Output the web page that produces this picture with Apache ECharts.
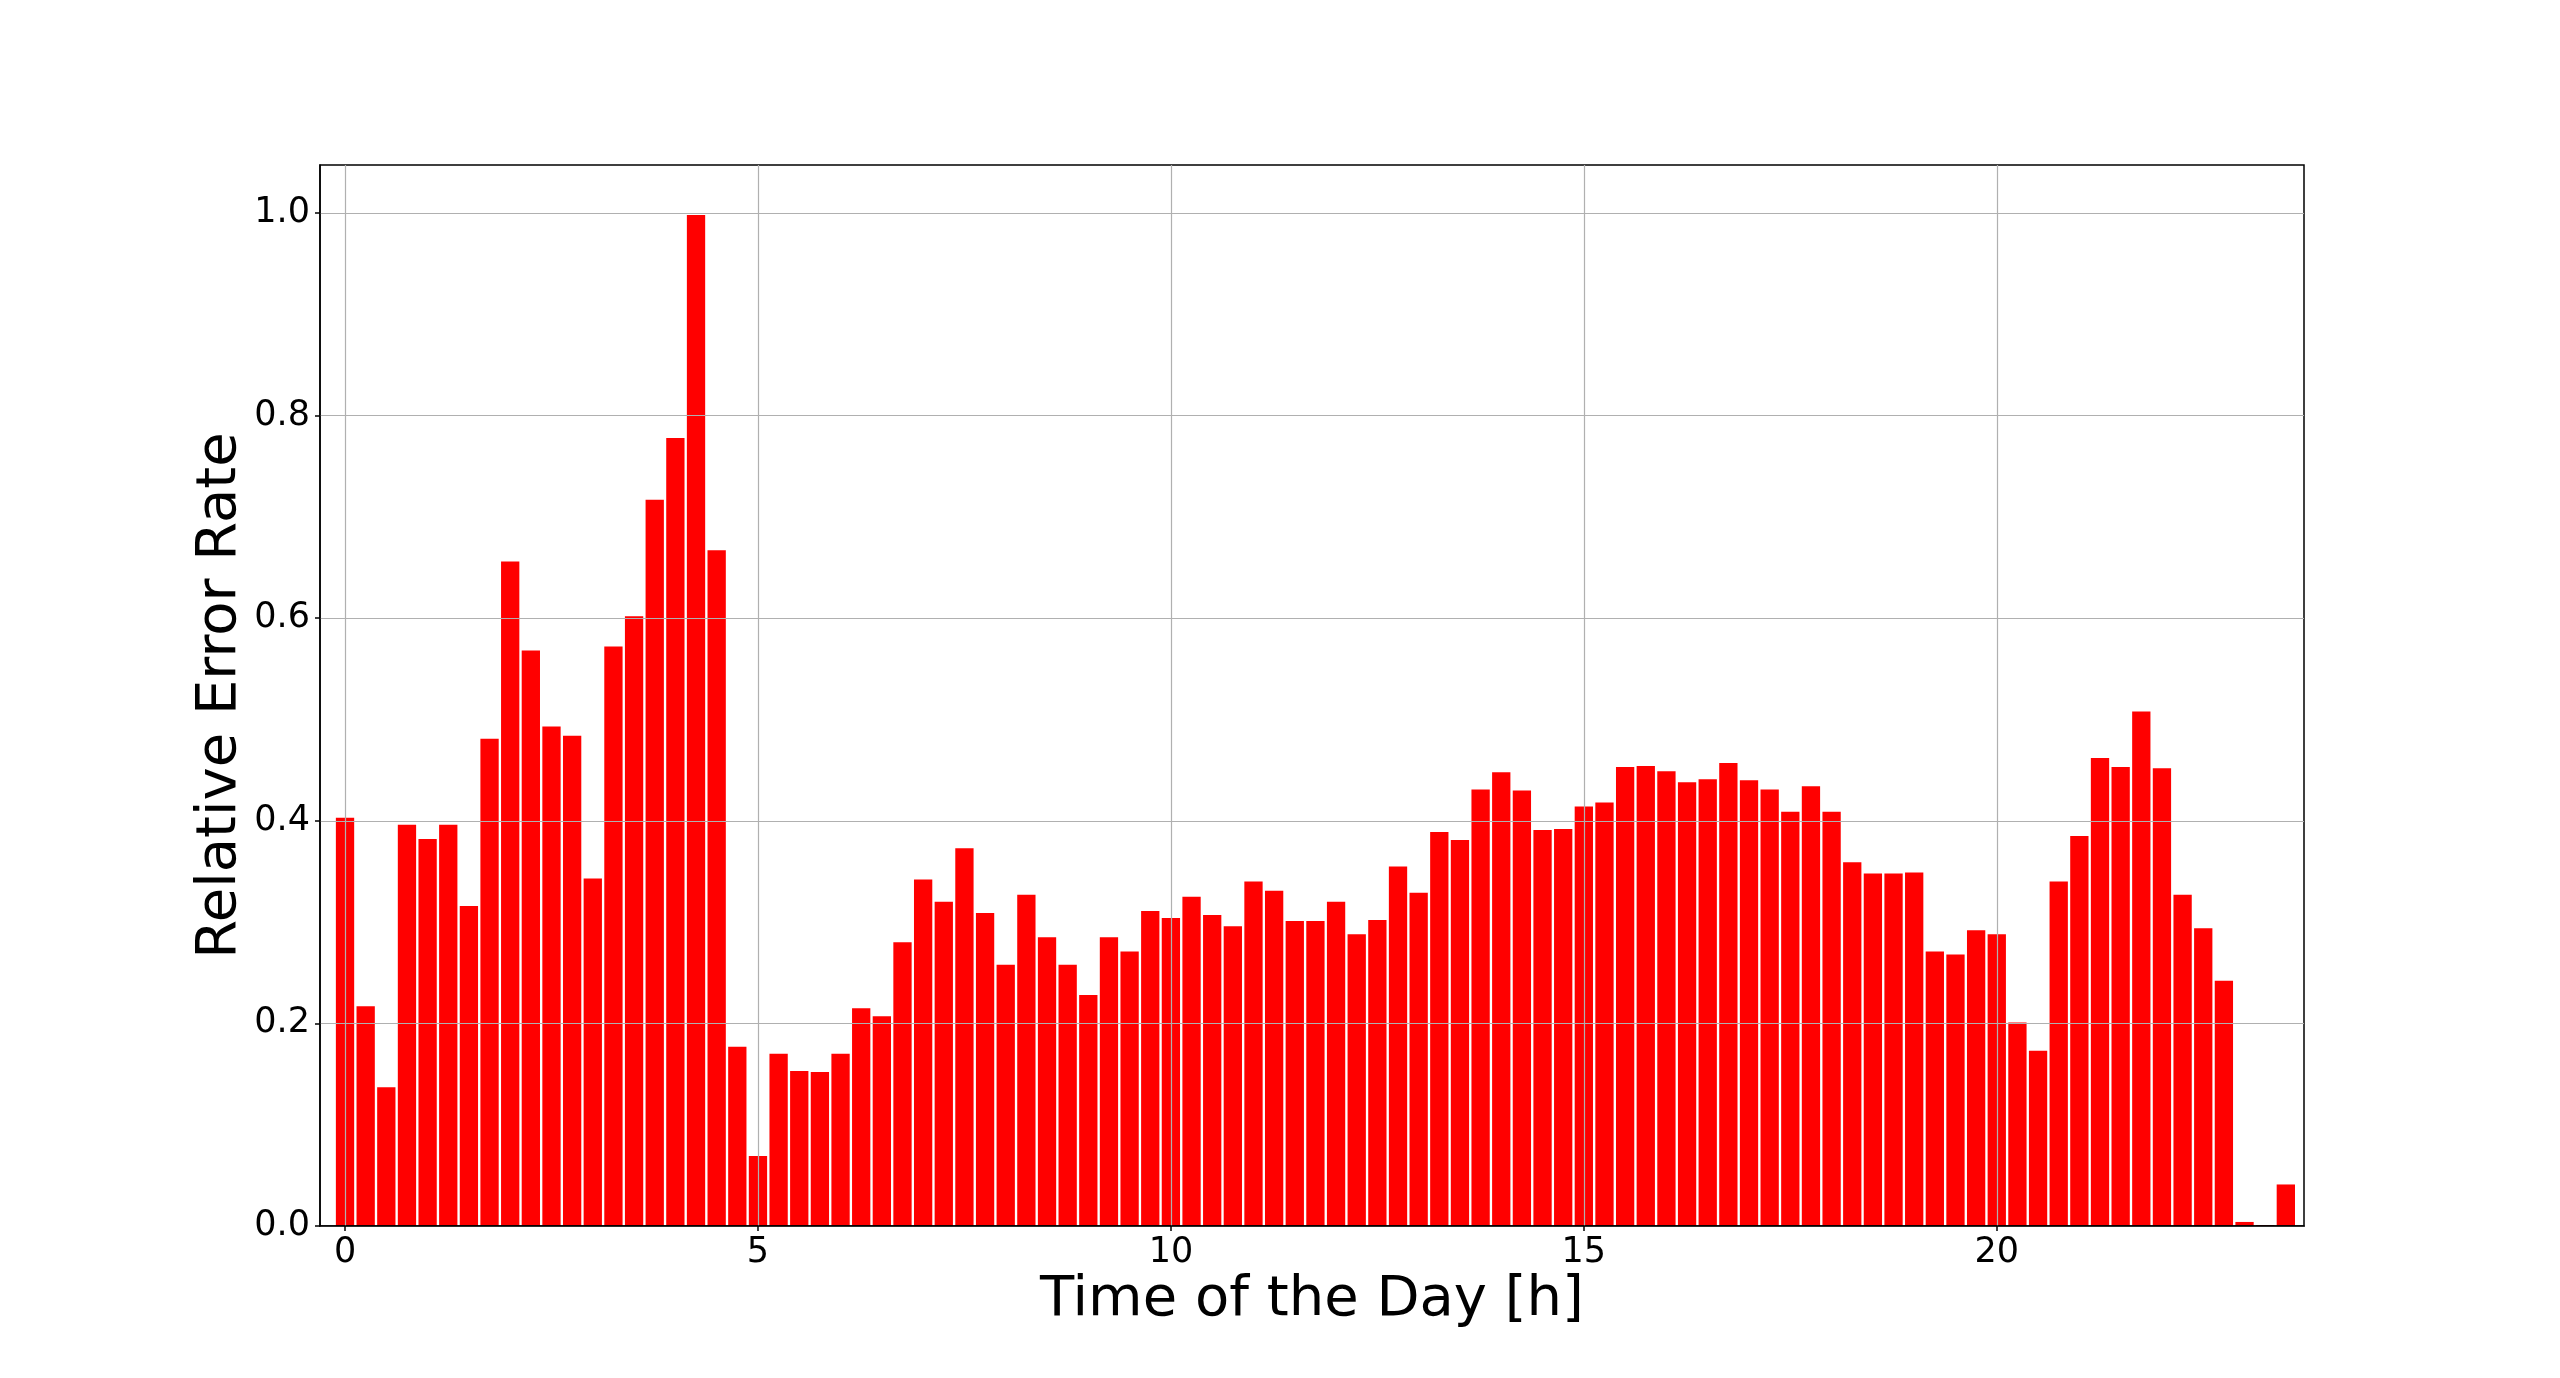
<!DOCTYPE html>
<html>
<head>
<meta charset="utf-8">
<script src="https://cdn.jsdelivr.net/npm/echarts@6/dist/echarts.min.js"></script>
<style>
html,body{margin:0;padding:0;background:#fff;}
#chart{width:2560px;height:1378px;}
</style>
</head>
<body>
<div id="chart"></div>
<script>
// Time of day (hours), 15-minute bins
var hours = [
  0, 0.25, 0.5, 0.75, 1, 1.25, 1.5, 1.75, 2, 2.25, 2.5, 2.75,
  3, 3.25, 3.5, 3.75, 4, 4.25, 4.5, 4.75, 5, 5.25, 5.5, 5.75,
  6, 6.25, 6.5, 6.75, 7, 7.25, 7.5, 7.75, 8, 8.25, 8.5, 8.75,
  9, 9.25, 9.5, 9.75, 10, 10.25, 10.5, 10.75, 11, 11.25, 11.5, 11.75,
  12, 12.25, 12.5, 12.75, 13, 13.25, 13.5, 13.75, 14, 14.25, 14.5, 14.75,
  15, 15.25, 15.5, 15.75, 16, 16.25, 16.5, 16.75, 17, 17.25, 17.5, 17.75,
  18, 18.25, 18.5, 18.75, 19, 19.25, 19.5, 19.75, 20, 20.25, 20.5, 20.75,
  21, 21.25, 21.5, 21.75, 22, 22.25, 22.5, 22.75, 23, 23.25, 23.5
];
// Relative error rate per bin
var errorRate = [
  0.403, 0.217, 0.137, 0.396, 0.382, 0.396, 0.316, 0.481, 0.656, 0.568, 0.493, 0.484,
  0.343, 0.572, 0.602, 0.717, 0.778, 0.998, 0.667, 0.177, 0.069, 0.170, 0.153, 0.152,
  0.170, 0.215, 0.207, 0.280, 0.342, 0.320, 0.373, 0.309, 0.258, 0.327, 0.285, 0.258,
  0.228, 0.285, 0.271, 0.311, 0.304, 0.325, 0.307, 0.296, 0.340, 0.331, 0.301, 0.301,
  0.320, 0.288, 0.302, 0.355, 0.329, 0.389, 0.381, 0.431, 0.448, 0.430, 0.391, 0.392,
  0.414, 0.418, 0.453, 0.454, 0.449, 0.438, 0.441, 0.457, 0.440, 0.431, 0.409, 0.434,
  0.409, 0.359, 0.348, 0.348, 0.349, 0.271, 0.268, 0.292, 0.288, 0.201, 0.173, 0.340,
  0.385, 0.462, 0.453, 0.508, 0.452, 0.327, 0.294, 0.242, 0.004, 0.001, 0.041
];
var xTicks = [0, 5, 10, 15, 20];
var yTicks = [0, 0.2, 0.4, 0.6, 0.8, 1.0];
var xTitle = 'Time of the Day [h]';
var yTitle = 'Relative Error Rate';

var seriesData = hours.map(function (h, i) { return [h, errorRate[i]]; });
var FONT = '"DejaVu Sans", sans-serif';

var chart = echarts.init(document.getElementById('chart'), null, {renderer: 'canvas'});
chart.setOption({
  animation: false,
  backgroundColor: '#ffffff',
  grid: {
    left: 320, top: 165, width: 1984, height: 1061,
    show: true, borderColor: '#000', borderWidth: 1.5, backgroundColor: 'transparent'
  },
  xAxis: {
    type: 'value',
    min: -0.303, max: 23.72,
    name: xTitle,
    nameLocation: 'middle',
    nameGap: 46,
    nameMoveOverlap: false,
    nameTextStyle: {fontFamily: FONT, fontSize: 56, color: '#000'},
    axisLine: {show: true, onZero: false, lineStyle: {color: '#000', width: 1.5}},
    axisTick: {show: true, length: 5, inside: false, customValues: xTicks, lineStyle: {color: '#000', width: 1.5}},
    axisLabel: {show: true, customValues: xTicks, margin: 9, fontFamily: FONT, fontSize: 35, color: '#000',
      formatter: function (v) { return String(v); }},
    splitLine: {show: true, lineStyle: {color: '#b0b0b0', width: 1.2}}
  },
  yAxis: {
    type: 'value',
    min: 0, max: 1.0474,
    name: yTitle,
    nameLocation: 'middle',
    nameRotate: 90,
    nameGap: 72,
    nameMoveOverlap: false,
    nameTextStyle: {fontFamily: FONT, fontSize: 56, color: '#000'},
    axisLine: {show: true, onZero: false, lineStyle: {color: '#000', width: 1.5}},
    axisTick: {show: true, length: 5, inside: false, customValues: yTicks, lineStyle: {color: '#000', width: 1.5}},
    axisLabel: {show: true, customValues: yTicks, margin: 10, fontFamily: FONT, fontSize: 35, color: '#000',
      formatter: function (v) { return v.toFixed(1); }},
    splitLine: {show: true, lineStyle: {color: '#b0b0b0', width: 1.2}}
  },
  series: [{
    type: 'bar',
    z: -1,
    data: seriesData,
    barWidth: 18.3,
    itemStyle: {color: '#ff0000'},
    emphasis: {disabled: true}
  }]
});
</script>
</body>
</html>
